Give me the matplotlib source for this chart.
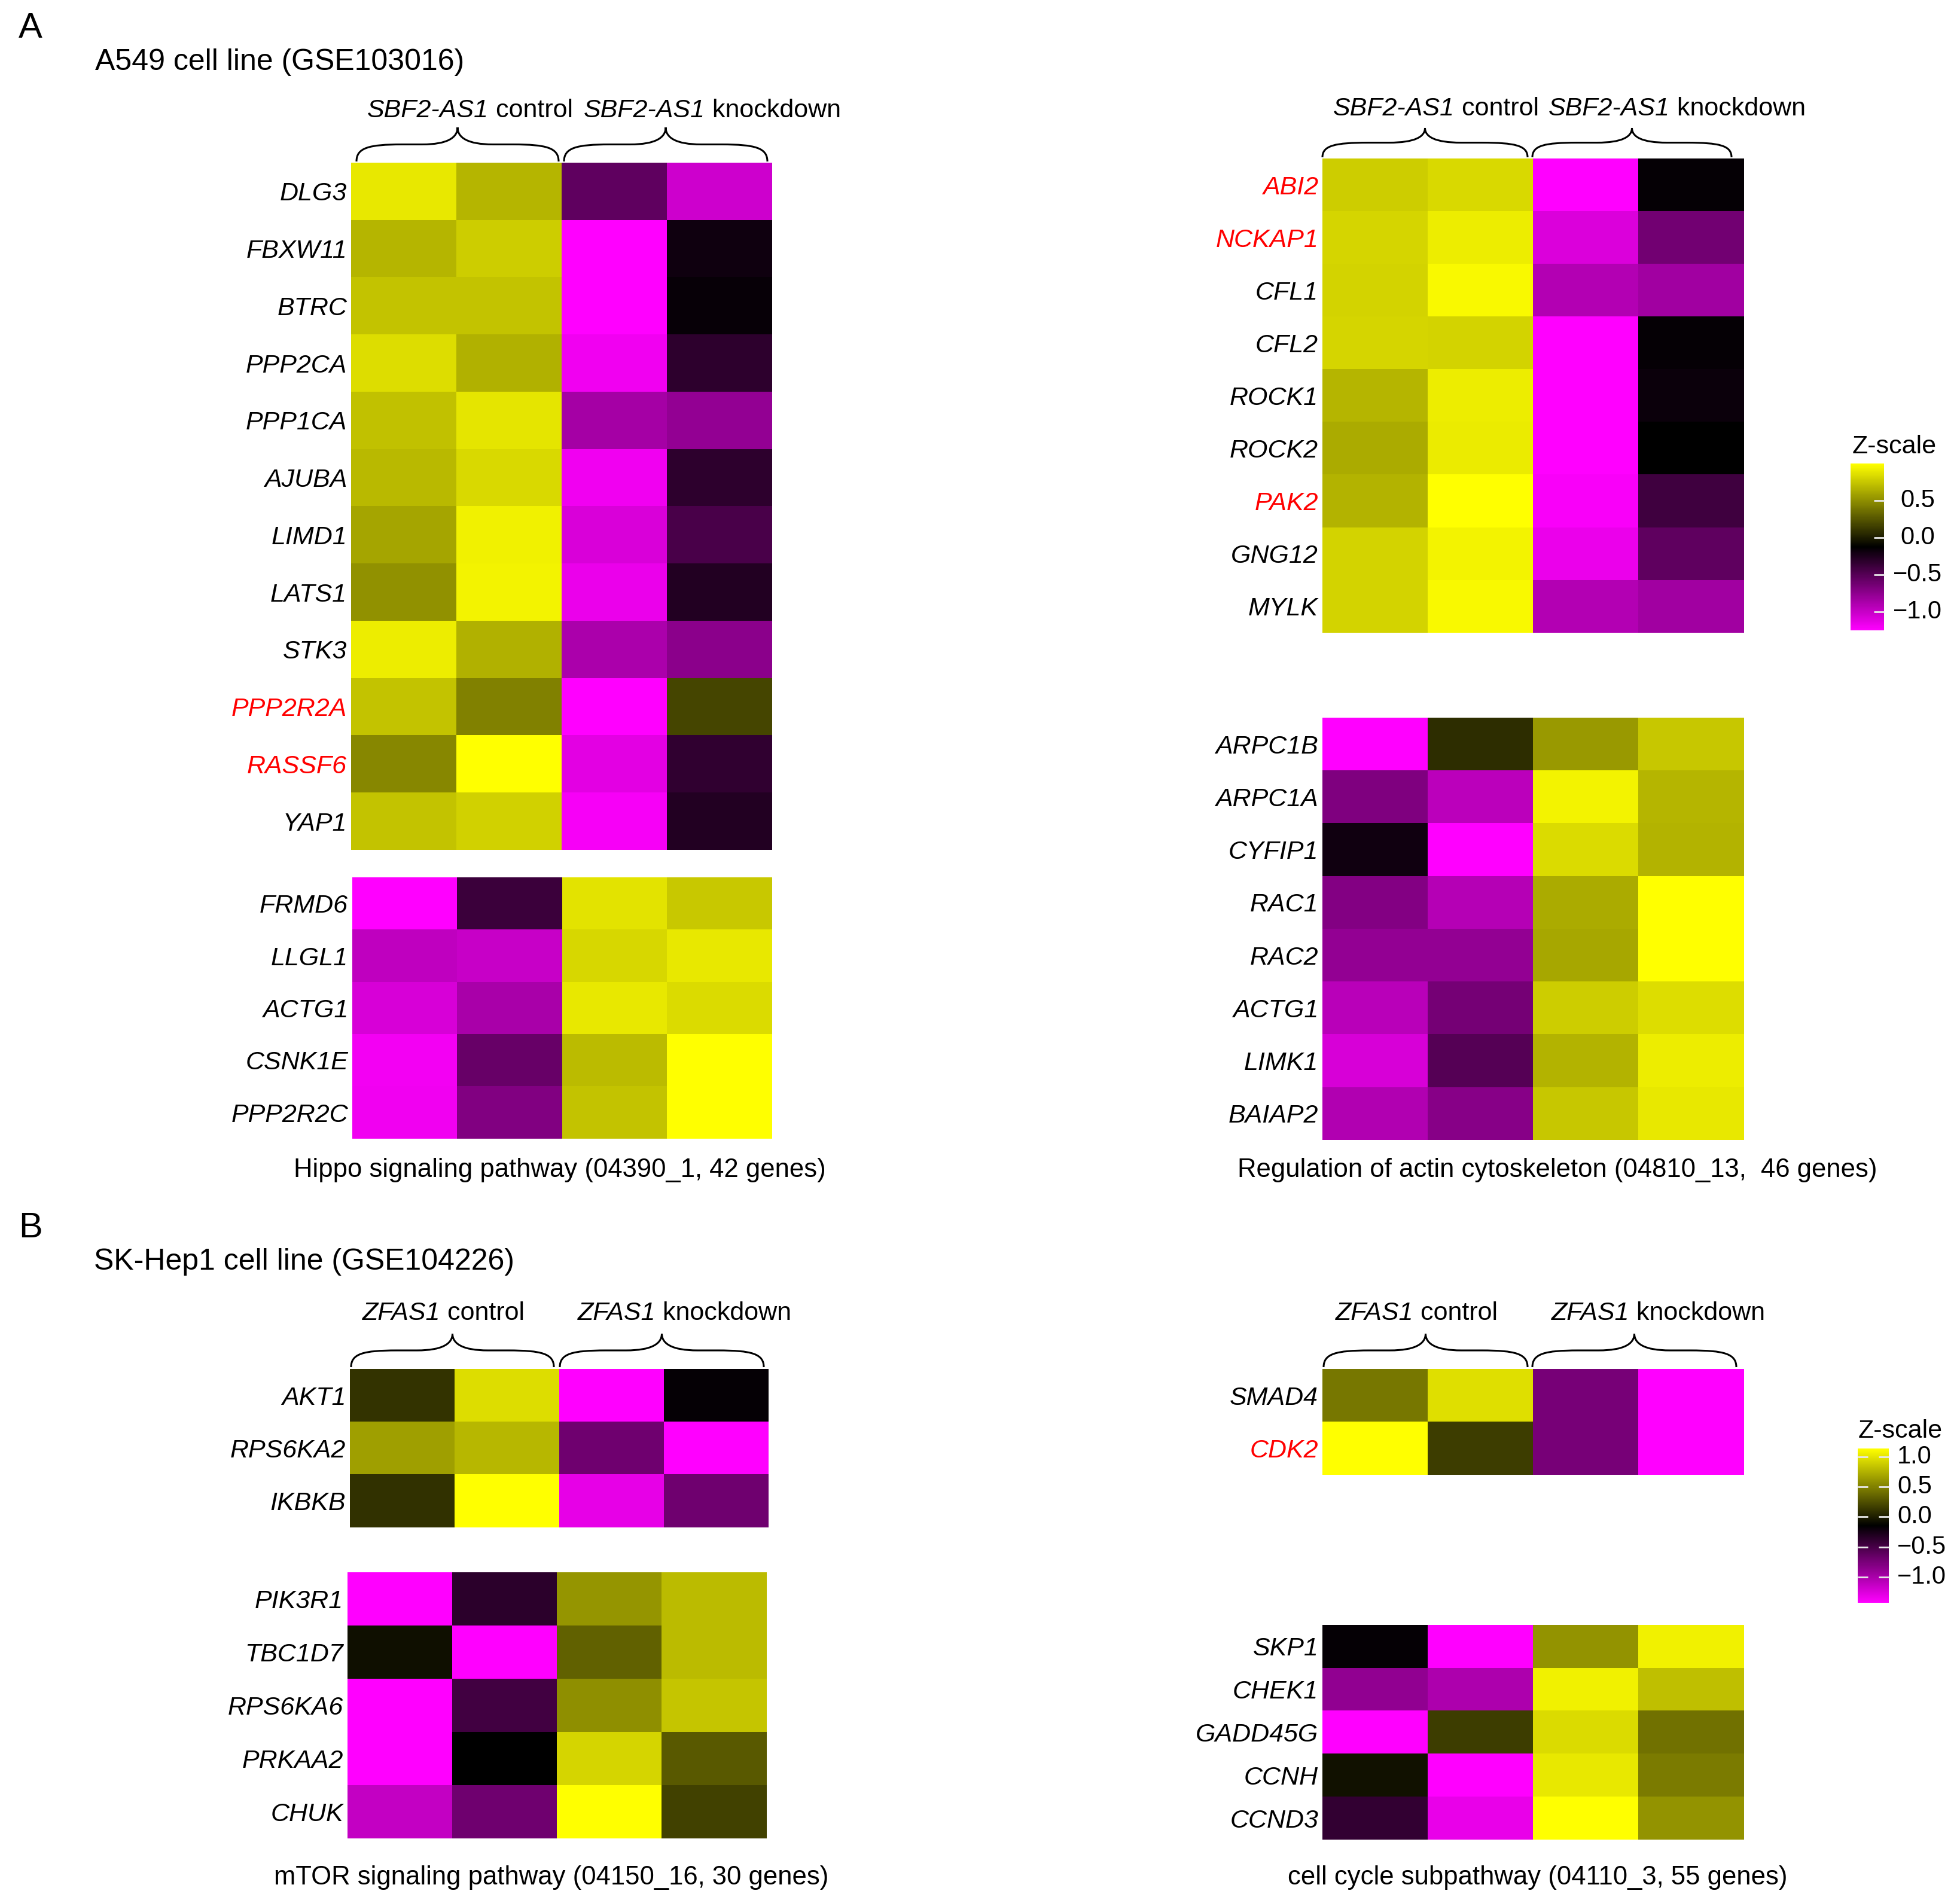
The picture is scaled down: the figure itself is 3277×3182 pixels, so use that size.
import numpy as np
import matplotlib
matplotlib.use('Agg')
import matplotlib.pyplot as plt
from matplotlib.colors import LinearSegmentedColormap, Normalize
from matplotlib.path import Path
from matplotlib.patches import PathPatch

plt.rcParams['font.family'] = ['Liberation Sans', 'DejaVu Sans']

W, H = 3277, 3182

# ---- data (z-scores) ----
hippo_top_genes = ['DLG3', 'FBXW11', 'BTRC', 'PPP2CA', 'PPP1CA', 'AJUBA',
                   'LIMD1', 'LATS1', 'STK3', 'PPP2R2A', 'RASSF6', 'YAP1']
hippo_top = [[0.90, 0.67, -0.54, -1.03],
             [0.67, 0.78, -1.25, -0.19],
             [0.73, 0.73, -1.25, -0.16],
             [0.85, 0.65, -1.18, -0.32],
             [0.72, 0.88, -0.85, -0.77],
             [0.69, 0.83, -1.18, -0.32],
             [0.60, 0.93, -1.08, -0.45],
             [0.51, 0.94, -1.16, -0.28],
             [0.92, 0.65, -0.88, -0.74],
             [0.73, 0.44, -1.25, 0.18],
             [0.47, 1.00, -1.12, -0.34],
             [0.73, 0.79, -1.21, -0.28]]
hippo_bot_genes = ['FRMD6', 'LLGL1', 'ACTG1', 'CSNK1E', 'PPP2R2C']
hippo_bot = [[-1.25, -0.38, 0.87, 0.76],
             [-0.96, -1.00, 0.82, 0.90],
             [-1.07, -0.87, 0.90, 0.84],
             [-1.19, -0.58, 0.70, 1.00],
             [-1.18, -0.69, 0.73, 1.00]]

actin_top_genes = ['ABI2', 'NCKAP1', 'CFL1', 'CFL2', 'ROCK1', 'ROCK2',
                   'PAK2', 'GNG12', 'MYLK']
actin_top = [[0.78, 0.83, -1.25, -0.15],
             [0.81, 0.92, -1.09, -0.63],
             [0.80, 0.97, -0.91, -0.83],
             [0.81, 0.80, -1.25, -0.15],
             [0.67, 0.92, -1.25, -0.17],
             [0.63, 0.91, -1.25, -0.13],
             [0.66, 1.00, -1.22, -0.40],
             [0.80, 0.94, -1.16, -0.54],
             [0.80, 0.97, -0.91, -0.83]]
actin_bot_genes = ['ARPC1B', 'ARPC1A', 'CYFIP1', 'RAC1', 'RAC2', 'ACTG1',
                   'LIMK1', 'BAIAP2']
actin_bot = [[-1.25, 0.07, 0.55, 0.75],
             [-0.68, -0.95, 0.94, 0.67],
             [-0.20, -1.25, 0.84, 0.66],
             [-0.70, -0.92, 0.63, 1.00],
             [-0.77, -0.77, 0.61, 1.00],
             [-0.94, -0.64, 0.78, 0.85],
             [-1.07, -0.50, 0.66, 0.92],
             [-0.90, -0.72, 0.75, 0.90]]

mtor_top_genes = ['AKT1', 'RPS6KA2', 'IKBKB']
mtor_top = [[0.11, 0.96, -1.43, -0.17],
            [0.65, 0.77, -0.70, -1.43],
            [0.10, 1.14, -1.30, -0.70]]
mtor_bot_genes = ['PIK3R1', 'TBC1D7', 'RPS6KA6', 'PRKAA2', 'CHUK']
mtor_bot = [[-1.43, -0.36, 0.60, 0.79],
            [-0.07, -1.43, 0.34, 0.79],
            [-1.42, -0.47, 0.57, 0.84],
            [-1.43, -0.15, 0.92, 0.30],
            [-1.12, -0.70, 1.14, 0.18]]

cc_top_genes = ['SMAD4', 'CDK2']
cc_top = [[0.45, 0.97, -0.74, -1.43],
          [1.14, 0.16, -0.74, -1.43]]
cc_bot_genes = ['SKP1', 'CHEK1', 'GADD45G', 'CCNH', 'CCND3']
cc_bot = [[-0.17, -1.43, 0.59, 1.06],
          [-0.87, -1.01, 1.06, 0.81],
          [-1.43, 0.16, 0.95, 0.42],
          [-0.06, -1.43, 1.02, 0.47],
          [-0.40, -1.31, 1.14, 0.59]]

red_genes = ['PPP2R2A', 'RASSF6', 'ABI2', 'NCKAP1', 'PAK2', 'CDK2']

ticksA = [-1.0, -0.5, 0.0, 0.5]
ticksB = [-1.0, -0.5, 0.0, 0.5, 1.0]

cmap = LinearSegmentedColormap.from_list('zscale', ['#FF00FF', '#000000', '#FFFF00'])
normA = Normalize(vmin=-1.25, vmax=1.0)
normB = Normalize(vmin=-1.43, vmax=1.14)

FS = 31

fig = plt.figure(figsize=(W / 100, H / 100), dpi=100)
ov = fig.add_axes([0, 0, 1, 1])
ov.set_xlim(0, W)
ov.set_ylim(H, 0)
ov.axis('off')


def box(l, t, r, b):
    return [l / W, 1 - b / H, (r - l) / W, (b - t) / H]


def heat(genes, vals, pos, norm):
    ax = fig.add_axes(box(*pos))
    im = ax.imshow(np.array(vals), cmap=cmap, norm=norm, aspect='auto',
                   interpolation='nearest')
    ax.set_xticks([])
    ax.set_yticks(range(len(genes)))
    ax.set_yticklabels(genes, fontsize=FS, style='italic')
    ax.tick_params(axis='y', length=0, pad=5)
    for lab in ax.get_yticklabels():
        if lab.get_text() in red_genes:
            lab.set_color('#FF0000')
    for s in ax.spines.values():
        s.set_visible(False)
    return im


def brace(x0, x1, yb, yt):
    hw = (x1 - x0) / 2
    xc = x0 + hw
    ym = (yb + yt) / 2
    verts = [(x0, yb), (x0, ym + (yb - ym) * 0.2), (x0 + 0.12 * hw, ym), (x0 + 0.45 * hw, ym),
             (xc - 0.35 * hw, ym),
             (xc - 0.1 * hw, ym), (xc, ym - (ym - yt) * 0.4), (xc, yt),
             (xc, ym - (ym - yt) * 0.4), (xc + 0.1 * hw, ym), (xc + 0.35 * hw, ym),
             (x1 - 0.45 * hw, ym),
             (x1 - 0.12 * hw, ym), (x1, ym + (yb - ym) * 0.2), (x1, yb)]
    codes = [Path.MOVETO, Path.CURVE4, Path.CURVE4, Path.CURVE4, Path.LINETO,
             Path.CURVE4, Path.CURVE4, Path.CURVE4, Path.CURVE4, Path.CURVE4, Path.CURVE4,
             Path.LINETO, Path.CURVE4, Path.CURVE4, Path.CURVE4]
    ov.add_patch(PathPatch(Path(verts, codes), fill=False, lw=2.2, edgecolor='black'))


def header(x, y, italic, rest):
    t = ov.text(x, y, italic, style='italic', fontsize=FS, ha='left', va='center')
    ov.annotate(rest, xy=(1, 0.5), xycoords=t, fontsize=FS, ha='left', va='center')


def zbar(im, pos, ticks, both, lab_x, lab_ha):
    cax = fig.add_axes(box(*pos))
    cb = fig.colorbar(im, cax=cax, ticks=ticks)
    cb.outline.set_visible(False)
    cax.tick_params(direction='in', length=12, width=2, color='#e8e8e8',
                    labelright=False, left=both, right=True)
    # tick labels placed in axes-x / data-y coordinates
    xa = (lab_x - pos[0]) / (pos[2] - pos[0])
    for t in ticks:
        cax.text(xa, t, f'{t:.1f}'.replace('-', '\u2212'), fontsize=30,
                 ha=lab_ha, va='center', transform=cax.get_yaxis_transform(),
                 clip_on=False)


# ---- panel A ----
ov.text(31, 63, 'A', fontsize=43, ha='left', va='baseline')
ov.text(159, 117, 'A549 cell line (GSE103016)', fontsize=36, ha='left', va='baseline')

imA = heat(hippo_top_genes, hippo_top, (587, 272, 1290, 1421), normA)
heat(hippo_bot_genes, hippo_bot, (589, 1467, 1290, 1904), normA)
header(614, 185, 'SBF2-AS1', ' control')
header(976, 185, 'SBF2-AS1', ' knockdown')
brace(596, 934, 270, 213)
brace(943, 1283, 270, 213)
ov.text(936, 1968, 'Hippo signaling pathway (04390_1, 42 genes)', fontsize=31.4,
        ha='center', va='baseline')

heat(actin_top_genes, actin_top, (2211, 265, 2916, 1058), normA)
heat(actin_bot_genes, actin_bot, (2211, 1200, 2916, 1906), normA)
header(2229, 182, 'SBF2-AS1', ' control')
header(2589, 182, 'SBF2-AS1', ' knockdown')
brace(2211, 2554, 263, 214)
brace(2562, 2895, 263, 214)
ov.text(2604, 1968, 'Regulation of actin cytoskeleton (04810_13,  46 genes)', fontsize=31.4,
        ha='center', va='baseline')

ov.text(3097, 747, 'Z-scale', fontsize=FS, ha='left', va='center')
zbar(imA, (3094, 775, 3150, 1054), ticksA, False, 3206, 'center')

# ---- panel B ----
ov.text(31, 2069, 'B', fontsize=43, ha='left', va='baseline')
ov.text(157, 2123, 'SK-Hep1 cell line (GSE104226)', fontsize=36, ha='left', va='baseline')

imB = heat(mtor_top_genes, mtor_top, (585, 2289, 1284, 2554), normB)
heat(mtor_bot_genes, mtor_bot, (581, 2629, 1281, 3074), normB)
header(606, 2196, 'ZFAS1', ' control')
header(966, 2196, 'ZFAS1', ' knockdown')
brace(587, 926, 2286, 2230)
brace(936, 1277, 2286, 2230)
ov.text(922, 3151, 'mTOR signaling pathway (04150_16, 30 genes)', fontsize=31.4,
        ha='center', va='baseline')

heat(cc_top_genes, cc_top, (2211, 2289, 2916, 2466), normB)
heat(cc_bot_genes, cc_bot, (2211, 2717, 2916, 3076), normB)
header(2233, 2196, 'ZFAS1', ' control')
header(2594, 2196, 'ZFAS1', ' knockdown')
brace(2213, 2554, 2286, 2230)
brace(2562, 2903, 2286, 2230)
ov.text(2571, 3151, 'cell cycle subpathway (04110_3, 55 genes)', fontsize=31.4,
        ha='center', va='baseline')

ov.text(3107, 2393, 'Z-scale', fontsize=FS, ha='left', va='center')
zbar(imB, (3106, 2422, 3158, 2680), ticksB, True, 3172, 'left')

fig.savefig('out.png', dpi=100)
